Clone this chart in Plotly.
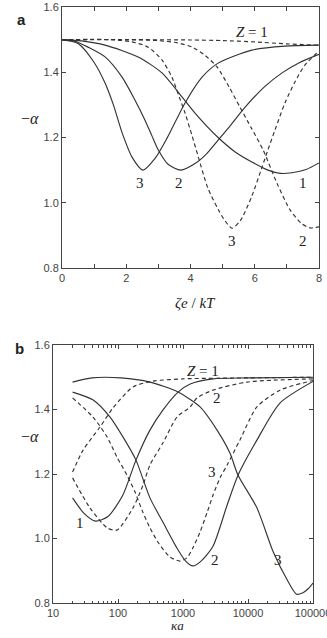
import plotly.graph_objects as go
import math

# ---------------- Panel a : -alpha versus zeta e/kT ----------------
zeta_s1 = [0, 0.6, 1.34, 2.37, 3.11, 3.74, 4.14, 4.86, 5.4, 5.91, 6.41, 6.8, 7.16, 7.6, 8.0]
alpha_s1 = [1.5, 1.496, 1.483, 1.447, 1.398, 1.324, 1.275, 1.20, 1.155, 1.125, 1.10, 1.09, 1.092, 1.102, 1.122]

zeta_s2 = [0, 0.4, 0.81, 1.34, 1.87, 2.27, 2.58, 2.80, 2.99, 3.3, 3.7, 4.14, 4.5, 4.86, 5.17, 5.7, 6.3, 6.85, 7.4, 8.0]
alpha_s2 = [1.5, 1.495, 1.477, 1.447, 1.385, 1.315, 1.254, 1.205, 1.163, 1.118, 1.10, 1.12, 1.15, 1.192, 1.228, 1.293, 1.355, 1.398, 1.43, 1.455]

zeta_s3 = [0, 0.5, 1.0, 1.34, 1.6, 1.87, 2.18, 2.52, 2.89, 3.27, 3.83, 4.36, 4.86, 5.91, 6.94, 8.0]
alpha_s3 = [1.5, 1.488, 1.43, 1.367, 1.30, 1.215, 1.14, 1.10, 1.135, 1.198, 1.306, 1.385, 1.428, 1.468, 1.48, 1.483]

zeta_d1 = [0, 2, 4, 5, 6, 7, 8]
alpha_d1 = [1.5, 1.5, 1.499, 1.497, 1.493, 1.487, 1.483]

zeta_d2 = [0, 2.0, 3.0, 3.6, 4.05, 4.45, 4.83, 5.2, 5.54, 5.9, 6.26, 6.69, 7.1, 7.45, 7.72, 8.0]
alpha_d2 = [1.5, 1.5, 1.497, 1.49, 1.477, 1.452, 1.416, 1.355, 1.293, 1.228, 1.162, 1.06, 0.978, 0.937, 0.923, 0.926]

zeta_d3 = [0, 1.5, 2.18, 2.68, 3.11, 3.42, 3.65, 3.83, 4.05, 4.23, 4.54, 4.86, 5.05, 5.29, 5.55, 5.9, 6.23, 6.41, 6.63, 6.94, 7.25, 7.56, 8.0]
alpha_d3 = [1.5, 1.5, 1.493, 1.477, 1.438, 1.385, 1.324, 1.275, 1.205, 1.145, 1.045, 0.98, 0.948, 0.922, 0.945, 1.018, 1.11, 1.162, 1.223, 1.306, 1.37, 1.422, 1.465]

# ---------------- Panel b : -alpha versus kappa a ----------------
ka_s1 = [20, 30, 45, 70, 119, 189, 310, 490, 840, 1290, 2900, 9600, 100000]
alpha_b_s1 = [1.126, 1.078, 1.054, 1.068, 1.135, 1.243, 1.336, 1.398, 1.454, 1.479, 1.495, 1.498, 1.5]

ka_s2 = [20, 41, 75, 119, 189, 310, 490, 809, 1100, 1420, 1900, 2880, 4780, 7050, 13700, 31000, 100000]
alpha_b_s2 = [1.454, 1.43, 1.377, 1.315, 1.243, 1.126, 1.051, 0.97, 0.93, 0.915, 0.93, 0.975, 1.104, 1.197, 1.305, 1.42, 1.487]

ka_s3 = [20, 40, 110, 310, 840, 1830, 3340, 5270, 7000, 13700, 24500, 40000, 56000, 70000, 85000, 100000]
alpha_b_s3 = [1.485, 1.498, 1.498, 1.485, 1.454, 1.408, 1.336, 1.265, 1.197, 1.095, 0.958, 0.872, 0.827, 0.832, 0.845, 0.862]

ka_d1 = [20, 29, 53, 84, 170, 346, 1000, 10000, 100000]
alpha_b_d1 = [1.206, 1.274, 1.346, 1.405, 1.47, 1.488, 1.495, 1.498, 1.5]

ka_d2 = [20, 41, 68, 96, 137, 183, 234, 310, 411, 629, 900, 1150, 1420, 1830, 2360, 2900, 3720, 4780, 7500, 13700, 31000, 100000]
alpha_b_d2 = [1.436, 1.377, 1.315, 1.253, 1.197, 1.144, 1.088, 1.033, 0.989, 0.943, 0.93, 0.94, 0.971, 1.02, 1.082, 1.135, 1.188, 1.228, 1.305, 1.408, 1.46, 1.49]

ka_d3 = [20, 37, 68, 96, 170, 243, 310, 490, 810, 1290, 1640, 2900, 9600, 100000]
alpha_b_d3 = [1.188, 1.095, 1.033, 1.026, 1.095, 1.166, 1.228, 1.296, 1.377, 1.408, 1.436, 1.46, 1.485, 1.495]

# tick labels
a_xticks = [0, 2, 4, 6, 8]
y_ticks = [0.8, 1.0, 1.2, 1.4, 1.6]
b_xticks = [10, 100, 1000, 10000, 100000]
b_xticklabels = ["10", "100", "1000", "10000", "100000"]

# curve labels: (text, x, y)
labels_a = [("<i>Z</i> = 1", 5.91, 1.523), ("3", 2.43, 1.06), ("2", 3.64, 1.06), ("1", 7.5, 1.06),
            ("3", 5.29, 0.883), ("2", 7.5, 0.883)]
labels_b = [("<i>Z</i> = 1", 2030, 1.519), ("2", 3335, 1.436), ("3", 2750, 1.206), ("1", 26, 1.048),
            ("2", 3090, 0.933), ("3", 28800, 0.933)]

W, H = 327, 638
LINE = "#333333"
AX = "#444444"

fig = go.Figure()


def add(x, y, dash, xa, ya):
    fig.add_trace(go.Scatter(x=x, y=y, mode="lines",
                             line=dict(color=LINE, width=1.15, dash=dash, shape="spline", smoothing=0.7),
                             xaxis=xa, yaxis=ya, showlegend=False, hoverinfo="skip"))


DASH = "4px,3px"
for xs, ys in [(zeta_s1, alpha_s1), (zeta_s2, alpha_s2), (zeta_s3, alpha_s3)]:
    add(xs, ys, "solid", "x", "y")
for xs, ys in [(zeta_d1, alpha_d1), (zeta_d2, alpha_d2), (zeta_d3, alpha_d3)]:
    add(xs, ys, DASH, "x", "y")
for xs, ys in [(ka_s1, alpha_b_s1), (ka_s2, alpha_b_s2), (ka_s3, alpha_b_s3)]:
    add(xs, ys, "solid", "x2", "y2")
for xs, ys in [(ka_d1, alpha_b_d1), (ka_d2, alpha_b_d2), (ka_d3, alpha_b_d3)]:
    add(xs, ys, DASH, "x2", "y2")

tickfont = dict(family="Liberation Sans, Arial, sans-serif", size=11, color="#444444")
common = dict(showline=True, linecolor=AX, linewidth=1, mirror="allticks", ticks="inside",
              ticklen=4, tickcolor=AX, tickwidth=1, showgrid=False, zeroline=False, tickfont=tickfont,
              ticklabeloverflow="allow", automargin=False)

minor_b = [m * 10 ** e for e in range(1, 5) for m in range(2, 10)]

fig.update_layout(
    width=W, height=H, margin=dict(l=0, r=0, t=0, b=0, autoexpand=False),
    paper_bgcolor="white", plot_bgcolor="white",
    xaxis=dict(domain=[62 / W, 319 / W], range=[0, 8], anchor="y", tickvals=a_xticks,
               minor=dict(ticks="inside", ticklen=4, tickcolor=AX, dtick=1, showgrid=False), **common),
    yaxis=dict(domain=[(H - 268) / H, (H - 7) / H], range=[0.8, 1.6], anchor="x", tickvals=y_ticks,
               tickformat=".1f", **common),
    xaxis2=dict(domain=[53 / W, 313 / W], type="log", range=[1, 5], anchor="y2", tickvals=b_xticks,
                ticktext=b_xticklabels,
                minor=dict(ticks="inside", ticklen=2.5, tickcolor=AX, tickvals=minor_b, showgrid=False), **common),
    yaxis2=dict(domain=[(H - 603) / H, (H - 345) / H], range=[0.8, 1.6], anchor="x2", tickvals=y_ticks,
                tickformat=".1f", **common),
)

serif = "Liberation Serif, Times New Roman, serif"
ann = []
for t, x, y in labels_a:
    ann.append(dict(text=t, x=x, y=y, xref="x", yref="y", showarrow=False,
                    font=dict(family=serif, size=15, color="#222")))
for t, x, y in labels_b:
    ann.append(dict(text=t, x=math.log10(x), y=y, xref="x2", yref="y2", showarrow=False,
                    font=dict(family=serif, size=15, color="#222")))


def P(x, y, text, size, family, **kw):
    ann.append(dict(text=text, x=x / W, y=1 - y / H, xref="paper", yref="paper", showarrow=False,
                    font=dict(family=family, size=size, color="#222"), **kw))


P(15, 9, "<b>a</b>", 15, "Liberation Sans, Arial, sans-serif")
P(13, 348, "<b>b</b>", 15, "Liberation Sans, Arial, sans-serif")
P(19, 108, "−<i>α</i>", 16, serif)
P(19, 447, "−<i>α</i>", 16, serif)
P(195, 303, "<i>ζe</i> / <i>kT</i>", 15, serif)
P(177, 634, "<i>κa</i>", 13, serif, borderpad=0)

fig.update_layout(annotations=ann)
fig.write_html(
    "out.html",
    post_script=("document.documentElement.style.overflow='hidden';"
                 "document.body.style.overflow='hidden';"
                 "document.body.style.margin='0';"),
)
